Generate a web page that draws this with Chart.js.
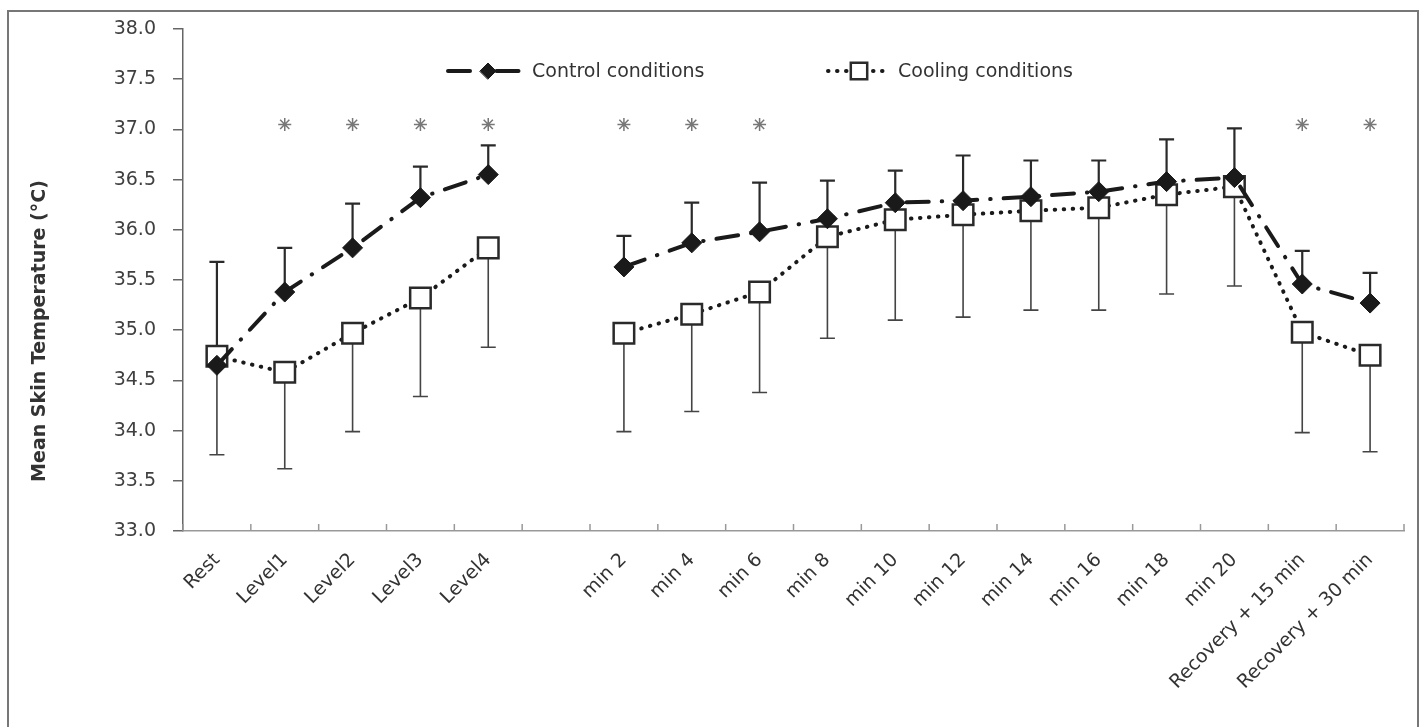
<!DOCTYPE html>
<html>
<head>
<meta charset="utf-8">
<title>Mean Skin Temperature</title>
<script src="https://cdn.jsdelivr.net/npm/chart.js@4.4.1/dist/chart.umd.min.js"></script>
<style>
    html, body { margin: 0; padding: 0; background: #fff; }
    #wrap { width: 1425px; height: 727px; position: relative; }
</style>
</head>
<body>
<div id="wrap"><canvas id="skinChart"></canvas></div>
<script>
// categories (the blank one is the gap between the levels and the minutes)
const categories = ['Rest', 'Level1', 'Level2', 'Level3', 'Level4', '',
    'min 2', 'min 4', 'min 6', 'min 8', 'min 10', 'min 12', 'min 14', 'min 16', 'min 18', 'min 20',
    'Recovery + 15 min', 'Recovery + 30 min'];

const controlMean  = [34.65, 35.38, 35.82, 36.32, 36.55, null, 35.63, 35.87, 35.98, 36.11, 36.27, 36.29, 36.33, 36.38, 36.48, 36.52, 35.46, 35.27];
const controlUpper = [35.68, 35.82, 36.26, 36.63, 36.84, null, 35.94, 36.27, 36.47, 36.49, 36.59, 36.74, 36.69, 36.69, 36.90, 37.01, 35.79, 35.57];

const coolingMean  = [34.74, 34.58, 34.97, 35.32, 35.82, null, 34.97, 35.16, 35.38, 35.93, 36.10, 36.15, 36.19, 36.22, 36.35, 36.43, 34.98, 34.75];
const coolingLower = [33.76, 33.62, 33.99, 34.34, 34.83, null, 33.99, 34.19, 34.38, 34.92, 35.10, 35.13, 35.20, 35.20, 35.36, 35.44, 33.98, 33.79];

// where the asterisks (significant difference) go
const significant = [false, true, true, true, true, false, true, true, true, false, false, false, false, false, false, false, true, true];
const sigLevel = 37.05;

const yTicks = [33.0, 33.5, 34.0, 34.5, 35.0, 35.5, 36.0, 36.5, 37.0, 37.5, 38.0];

const FONT = "'DejaVu Sans', sans-serif";

// white background + the thin frame round the figure
const frame = {
    id: 'frame',
    beforeDraw(chart) {
        const ctx = chart.ctx;
        ctx.save();
        ctx.fillStyle = '#fff';
        ctx.fillRect(0, 0, chart.width, chart.height);
        ctx.strokeStyle = '#777';
        ctx.lineWidth = 2;
        ctx.strokeRect(8, 11, 1410, 740);
        ctx.restore();
    }
};

// SD bars: control upwards, cooling downwards
const errorBars = {
    id: 'errorBars',
    beforeDatasetsDraw(chart) {
        const { ctx, scales: { x, y } } = chart;
        const drawBars = (means, ends, color, width) => {
            ctx.strokeStyle = color;
            ctx.lineWidth = width;
            means.forEach((m, i) => {
                if (m == null || ends[i] == null) return;
                const px = x.getPixelForValue(i);
                const y0 = y.getPixelForValue(m);
                const y1 = y.getPixelForValue(ends[i]);
                ctx.beginPath();
                ctx.moveTo(px, y0);
                ctx.lineTo(px, y1);
                ctx.moveTo(px - 7.5, y1);
                ctx.lineTo(px + 7.5, y1);
                ctx.stroke();
            });
        };
        ctx.save();
        ctx.setLineDash([]);
        drawBars(coolingMean, coolingLower, '#444', 1.6);
        drawBars(controlMean, controlUpper, '#2a2a2a', 2.2);
        ctx.restore();
    }
};

// Excel style: small x ticks pointing up into the plot, between categories
const xTickMarks = {
    id: 'xTickMarks',
    afterDraw(chart) {
        const { ctx, scales: { x } } = chart;
        const n = categories.length;
        ctx.save();
        ctx.strokeStyle = '#999';
        ctx.lineWidth = 1.5;
        for (let i = 0; i <= n; i++) {
            const px = x.left + i * x.width / n;
            ctx.beginPath();
            ctx.moveTo(px, x.top);
            ctx.lineTo(px, x.top - 7);
            ctx.stroke();
        }
        ctx.restore();
    }
};

// y title sits a bit lower than the middle of the plot in the original
const yTitle = {
    id: 'yTitle',
    afterDraw(chart) {
        const ctx = chart.ctx;
        ctx.save();
        ctx.translate(40, 331);
        ctx.rotate(-Math.PI / 2);
        ctx.font = 'bold 19px ' + FONT;
        ctx.fillStyle = '#333';
        ctx.textAlign = 'center';
        ctx.textBaseline = 'middle';
        ctx.fillText('Mean Skin Temperature (°C)', 0, 0);
        ctx.restore();
    }
};

// legend drawn inside the plot, line sample with the marker on it
const lineLegend = {
    id: 'lineLegend',
    afterDraw(chart) {
        const ctx = chart.ctx;
        const items = [
            { ds: chart.data.datasets[0], x1: 448, x2: 528, tx: 532 },
            { ds: chart.data.datasets[1], x1: 828, x2: 890, tx: 898 }
        ];
        const yy = 71;
        ctx.save();
        items.forEach(it => {
            const ds = it.ds;
            ctx.strokeStyle = ds.borderColor;
            ctx.lineWidth = ds.borderWidth;
            ctx.lineCap = ds.borderCapStyle;
            ctx.setLineDash(ds.borderDash);
            ctx.beginPath();
            ctx.moveTo(it.x1, yy);
            ctx.lineTo(it.x2, yy);
            ctx.stroke();
            ctx.setLineDash([]);
            ctx.fillStyle = ds.pointBackgroundColor;
            ctx.strokeStyle = ds.pointBorderColor;
            ctx.lineWidth = ds.pointBorderWidth;
            Chart.helpers.drawPoint(ctx, {
                pointStyle: ds.pointStyle,
                radius: ds.pointRadius * 0.8,
                rotation: 0,
                borderWidth: ds.pointBorderWidth
            }, (it.x1 + it.x2) / 2, yy);
            ctx.fillStyle = '#333';
            ctx.font = '19px ' + FONT;
            ctx.textAlign = 'left';
            ctx.textBaseline = 'middle';
            ctx.fillText(ds.label, it.tx, yy + 1);
        });
        ctx.restore();
    }
};

const ctxSkin = document.getElementById('skinChart').getContext('2d');
const skinChart = new Chart(ctxSkin, {
    type: 'line',
    data: {
        labels: categories,
        datasets: [{
            label: 'Control conditions',
            data: controlMean,
            borderColor: '#1a1a1a',
            borderWidth: 4,
            borderDash: [22, 13, 0.5, 13],
            borderCapStyle: 'round',
            pointStyle: 'rectRot',
            pointRadius: 10,
            pointBackgroundColor: '#1a1a1a',
            pointBorderColor: '#1a1a1a',
            pointBorderWidth: 1,
            tension: 0,
            spanGaps: false
        }, {
            label: 'Cooling conditions',
            data: coolingMean,
            borderColor: '#1a1a1a',
            borderWidth: 4,
            borderDash: [0.5, 8.5],
            borderCapStyle: 'round',
            pointStyle: 'rect',
            pointRadius: 14.5,
            pointBackgroundColor: '#fff',
            pointBorderColor: '#2a2a2a',
            pointBorderWidth: 2.5,
            tension: 0,
            spanGaps: false
        }, {
            label: 'sig',
            data: significant.map(s => s ? sigLevel : null),
            showLine: false,
            pointStyle: 'star',
            pointRadius: 6.5,
            pointBorderColor: '#777',
            pointBackgroundColor: '#777',
            pointBorderWidth: 1.5
        }]
    },
    options: {
        responsive: true,
        maintainAspectRatio: false,
        animation: false,
        events: [],
        layout: {
            padding: { left: 0, top: 29, right: 21, bottom: 0 }
        },
        plugins: {
            legend: { display: false },
            tooltip: { enabled: false },
            title: { display: false }
        },
        scales: {
            x: {
                type: 'category',
                offset: true,
                grid: { display: true, offset: true, drawOnChartArea: false, drawTicks: false },
                border: { display: true, color: '#999', width: 1.5 },
                ticks: {
                    autoSkip: false,
                    maxRotation: 45,
                    minRotation: 45,
                    padding: 18,
                    color: '#333',
                    font: { family: FONT, size: 19 }
                },
                afterFit(scale) { scale.height = 196; }
            },
            y: {
                min: 33,
                max: 38,
                afterBuildTicks(scale) { scale.ticks = yTicks.map(v => ({ value: v })); },
                grid: { drawOnChartArea: false, drawTicks: true, tickLength: 10, color: '#666', lineWidth: 1.5 },
                border: { display: true, color: '#666', width: 1.5 },
                ticks: {
                    padding: 17,
                    color: '#404040',
                    font: { family: FONT, size: 19 },
                    callback: (v) => Number(v).toFixed(1)
                },
                afterFit(scale) { scale.width = 183; }
            }
        }
    },
    plugins: [frame, errorBars, xTickMarks, yTitle, lineLegend]
});
</script>
</body>
</html>
